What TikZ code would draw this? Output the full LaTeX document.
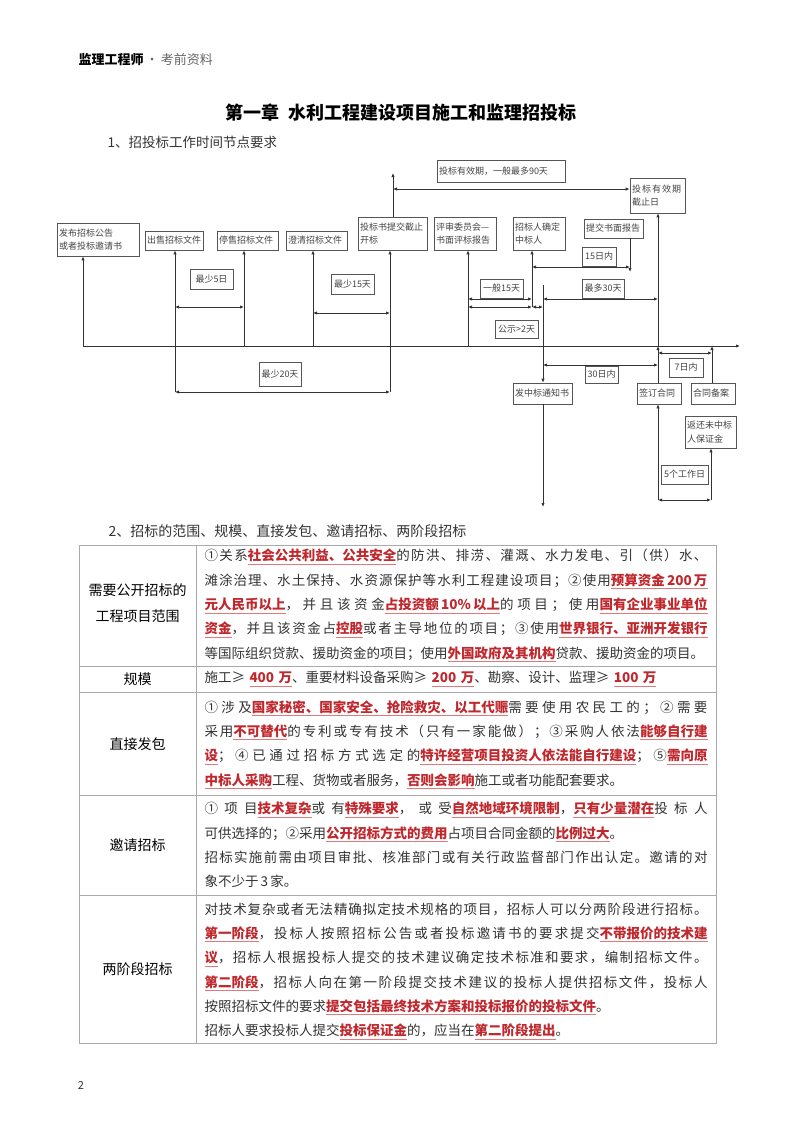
\documentclass[tikz,border=0pt]{standalone}
\usepackage{fontspec}
\setmainfont{Noto Sans CJK SC}
\usetikzlibrary{arrows.meta,positioning}

% even stretch between CJK characters, lines broken by hand only
\ifdefined\newXeTeXintercharclass
  \newXeTeXintercharclass\cjkcls
\else
  \chardef\cjkcls=7
\fi
\newcount\cjkn
\newcommand{\cjkrange}[2]{\cjkn=#1 \loop\XeTeXcharclass\cjkn=\cjkcls\advance\cjkn by 1 \ifnum\cjkn<#2 \repeat}
\cjkrange{"4E00}{"A000}
\cjkrange{"3000}{"3040}
\cjkrange{"FF00}{"FF60}
\cjkrange{"2460}{"2474}
\newcommand{\cjkglue}{\nobreak\hskip0pt plus 3pt\relax}
\XeTeXinterchartoks\cjkcls\cjkcls={\cjkglue}
\XeTeXinterchartoks 0 \cjkcls={\cjkglue}
\XeTeXinterchartoks\cjkcls 0 ={\cjkglue}
\setlength{\parindent}{0pt}
\tolerance=9999

\definecolor{ink}{HTML}{333333}
\definecolor{boxline}{HTML}{555555}
\definecolor{boxtext}{HTML}{444444}
\definecolor{rule}{HTML}{AAAAAA}
\definecolor{hlred}{HTML}{C0282D}
\definecolor{wavered}{HTML}{E07A7A}
\definecolor{mute}{HTML}{666666}

\newcommand{\boxfont}{\fontsize{9}{13.5}\selectfont}
\newcommand{\lblfont}{\fontsize{9}{11}\selectfont}
\newcommand{\bodyfont}{\XeTeXinterchartokenstate=1 \fontsize{13.5}{24.3}\selectfont}
\newcommand{\hl}[1]{\sbox0{\color{hlred}\bfseries #1}\leavevmode\usebox0\llap{\color{wavered}\rule[-3.6pt]{\wd0}{0.6pt}}}

\begin{document}
\begin{tikzpicture}[x=1pt,y=-1pt,
    tbox/.style 2 args={draw=boxline, line width=0.7pt, text width=#1, minimum height=#2, inner xsep=2pt, inner ysep=1pt, align=left, font=\boxfont, text=boxtext},
    lbl/.style 2 args={tbox={#1}{#2}, align=center, font=\lblfont},
    arr/.style={-{Latex[length=4pt,width=3.4pt]}, line width=0.9pt, draw=ink},
    darr/.style={{Latex[length=4pt,width=3.4pt]}-{Latex[length=4pt,width=3.4pt]}, line width=0.9pt, draw=ink},
    grid/.style={draw=rule, line width=0.7pt},
    cell/.style={text width=503pt, align=justify, font=\bodyfont, text=ink, inner sep=0pt},
    head/.style={align=center, font=\fontsize{14}{26}\selectfont, text=black}
]
\useasboundingbox[fill=white] (0,0) rectangle (800,1132);

% page heading
\node[anchor=west, font=\fontsize{13}{15}\selectfont] (header) at (75,60) {\textbf{监理工程师}\,{\color{mute}·\,考前资料}};
\node[font=\fontsize{18}{20}\selectfont\bfseries] (title) at (401,113) {第一章\ \ 水利工程建设项目施工和监理招投标};
\node[anchor=west, font=\fontsize{13.5}{15}\selectfont, text=ink] (secOne) at (104,142) {1、招投标工作时间节点要求};

% time line boxes
\node[tbox={78pt}{33pt}] (bidPub) at (98,239.5) {发布招标公告\\或者投标邀请书};
\node[tbox={54pt}{19pt}] (sellDoc) at (174,240.5) {出售招标文件};
\node[tbox={57pt}{19pt}] (stopDoc) at (247.5,240.5) {停售招标文件};
\node[tbox={57pt}{19pt}] (clarify) at (316.5,240.5) {澄清招标文件};
\node[tbox={65pt}{33pt}] (bidOpen) at (392.5,233.5) {投标书提交截止\\开标};
\node[tbox={124pt}{22pt}] (validity) at (501,171) {投标有效期，一般最多90天};
\node[tbox={51pt}{35pt}] (deadline) at (657.5,195.5) {投\kern1pt 标\kern1pt 有\kern1pt 效\kern1pt 期\\截止日};
\node[tbox={58pt}{33pt}] (review) at (465,233.5) {评审委员会—\\书面评标报告};
\node[tbox={48pt}{33pt}] (winner) at (539,233.5) {招标人确定\\中标人};
\node[tbox={55pt}{19pt}] (report) at (613.5,228.5) {提交书面报告};
\node[tbox={55pt}{21pt}] (notice) at (542.5,393.5) {发中标通知书};
\node[tbox={40pt}{21pt}] (contract) at (659,393.5) {签订合同};
\node[tbox={40pt}{21pt}] (filing) at (713,393.5) {合同备案};
\node[tbox={47pt}{32pt}] (refund) at (710.5,432) {返还未中标\\人保证金};

% interval labels
\node[lbl={39pt}{20pt}] (gap5) at (211.5,279) {最少5日};
\node[lbl={39pt}{20pt}] (gap15) at (352.5,284) {最少15天};
\node[lbl={38pt}{24pt}] (gap20) at (280,374) {最少20天};
\node[lbl={39pt}{19pt}] (gen15) at (501.5,288.5) {一般15天};
\node[lbl={39pt}{18pt}] (pub2) at (516.5,329) {公示>2天};
\node[lbl={38pt}{19pt}] (max30) at (603,288.5) {最多30天};
\node[lbl={30pt}{19pt}] (in15) at (599,256.5) {15日内};
\node[lbl={29pt}{17pt}] (in30) at (601.5,374.5) {30日内};
\node[lbl={30pt}{19pt}] (in7) at (686,367.5) {7日内};
\node[lbl={43pt}{19pt}] (work5) at (684.5,474.5) {5个工作日};

% axis and feet of the verticals
\coordinate (o) at (83,346);
\coordinate (axEnd) at (740,346);
\coordinate (tSell) at (175,392);
\coordinate (tStop) at (244,346);
\coordinate (tClar) at (313,346);
\coordinate (tOpen) at (390,392);
\coordinate (tRev) at (468,346);
\coordinate (tWin) at (532,307);
\coordinate (tNote) at (543,285);
\coordinate (tEnd) at (543,507);
\coordinate (tDead) at (658,346);
\coordinate (tFile) at (712,346);
\coordinate (vTop) at (393,173);
\coordinate (vMid) at (393,189);
\coordinate (rEnd) at (630,272);
\coordinate (cLow) at (658,500);
\coordinate (fLow) at (711,500);
% levels of the interval arrows
\coordinate (lv5) at (0,307);
\coordinate (lv15) at (0,313);
\coordinate (lvGen) at (0,299);
\coordinate (lvPub) at (0,307);
\coordinate (lvRep) at (0,267);
\coordinate (lv30) at (0,365);
\coordinate (lv7) at (0,353);

\draw[arr] (o) -- (axEnd);
\draw[arr] (o) -- (o |- bidPub.south);
\draw[arr] (tSell) -- (tSell |- sellDoc.south);
\draw[arr] (tStop) -- (tStop |- stopDoc.south);
\draw[arr] (tClar) -- (tClar |- clarify.south);
\draw[arr] (tOpen) -- (tOpen |- bidOpen.south);
\draw[arr] (vTop |- bidOpen.north) -- (vTop);
\draw[darr] (vMid) -- (vMid -| deadline.west);
\draw[arr] (tRev) -- (tRev |- review.south);
\draw[arr] (tWin) -- (tWin |- winner.south);
\draw[arr] (tNote) -- (tNote |- notice.north);
\draw[arr] (tNote |- notice.south) -- (tEnd);
\draw[arr] (rEnd |- report.south) -- (rEnd);
\draw[arr] (tDead) -- (tDead |- deadline.south);
\draw[arr] (tDead |- contract.north) -- (tDead);
\draw[arr] (tFile |- filing.north) -- (tFile);
\draw[arr] (cLow) -- (cLow |- contract.south);
\draw[arr] (fLow) -- (fLow |- refund.south);

\draw[darr] (tSell |- lv5) -- (tStop |- lv5);
\draw[darr] (tClar |- lv15) -- (tOpen |- lv15);
\draw[darr] (tSell) -- (tOpen);
\draw[darr] (tRev |- lvGen) -- (tWin |- lvGen);
\draw[darr] (tRev |- lvPub) -- (tWin |- lvPub);
\draw[darr] (tWin |- lvPub) -- (tNote |- lvPub);
\draw[darr] (tNote |- lvGen) -- (tDead |- lvGen);
\draw[darr] (tWin |- lvRep) -- (rEnd |- lvRep);
\draw[darr] (tNote |- lv30) -- (tDead |- lv30);
\draw[darr] (tDead |- lv7) -- (tFile |- lv7);
\draw[darr] (cLow) -- (fLow);

% second part: table
\node[anchor=west, font=\fontsize{14}{16}\selectfont, text=ink] (secTwo) at (105,531) {2、招标的范围、规模、直接发包、邀请招标、两阶段招标};

\draw[grid] (79,545) rectangle (716,1043);
\draw[grid] (196,545) -- (196,1043);
\foreach \ry in {666,692,795,895}
  \draw[grid] (79,\ry) -- (716,\ry);

\node[head] (lblScope) at (137.5,603) {需要公开招标的\\工程项目范围};
\node[head] (lblScale) at (137.5,679) {规模};
\node[head] (lblDirect) at (137.5,744) {直接发包};
\node[head] (lblInvite) at (137.5,845) {邀请招标};
\node[head] (lblTwo) at (137.5,969) {两阶段招标};

\node[cell] (txtScope) at (456,605.5) {①关系\hl{社会公共利益、公共安全}的防洪、排涝、灌溉、水力发电、引（供）水、\linebreak
滩涂治理、水土保持、水资源保护等水利工程建设项目；②使用\hl{预算资金\,200\,万}\linebreak
\hl{元人民币以上}，并且该资金\hl{占投资额\,10\%\,以上}的项目；使用\hl{国有企业事业单位}\linebreak
\hl{资金}，并且该资金占\hl{控股}或者主导地位的项目；③使用\hl{世界银行、亚洲开发银行}\linebreak
等国际组织贷款、援助资金的项目；使用\hl{外国政府及其机构}贷款、援助资金的项目。};

\node[cell, align=left] (txtScale) at (456,679) {施工≥ \hl{400 万}、重要材料设备采购≥ \hl{200 万}、勘察、设计、监理≥ \hl{100 万}};

\node[cell] (txtDirect) at (456,744.5) {①涉及\hl{国家秘密、国家安全、抢险救灾、以工代赈}需要使用农民工的；②需要\linebreak
采用\hl{不可替代}的专利或专有技术（只有一家能做）；③采购人依法\hl{能够自行建}\linebreak
\hl{设}；④已通过招标方式选定的\hl{特许经营项目投资人依法能自行建设}；⑤\hl{需向原}\linebreak
\hl{中标人采购}工程、货物或者服务，\hl{否则会影响}施工或者功能配套要求。};

\node[cell] (txtInvite) at (456,845) {①项目\hl{技术复杂}或有\hl{特殊要求}，或受\hl{自然地域环境限制}，\hl{只有少量潜在}投标人\linebreak
可供选择的；②采用\hl{公开招标方式的费用}占项目合同金额的\hl{比例过大}。\\
招标实施前需由项目审批、核准部门或有关行政监督部门作出认定。邀请的对\linebreak
象不少于\,3\,家。};

\node[cell] (txtTwo) at (456,971) {对技术复杂或者无法精确拟定技术规格的项目，招标人可以分两阶段进行招标。\linebreak
\hl{第一阶段}，投标人按照招标公告或者投标邀请书的要求提交\hl{不带报价的技术建}\linebreak
\hl{议}，招标人根据投标人提交的技术建议确定技术标准和要求，编制招标文件。\linebreak
\hl{第二阶段}，招标人向在第一阶段提交技术建议的投标人提供招标文件，投标人\linebreak
按照招标文件的要求\hl{提交包括最终技术方案和投标报价的投标文件}。\\
招标人要求投标人提交\hl{投标保证金}的，应当在\hl{第二阶段提出}。};

\node[font=\fontsize{11}{13}\selectfont, text=ink] (pageNo) at (81,1085) {2};
\end{tikzpicture}
\end{document}
